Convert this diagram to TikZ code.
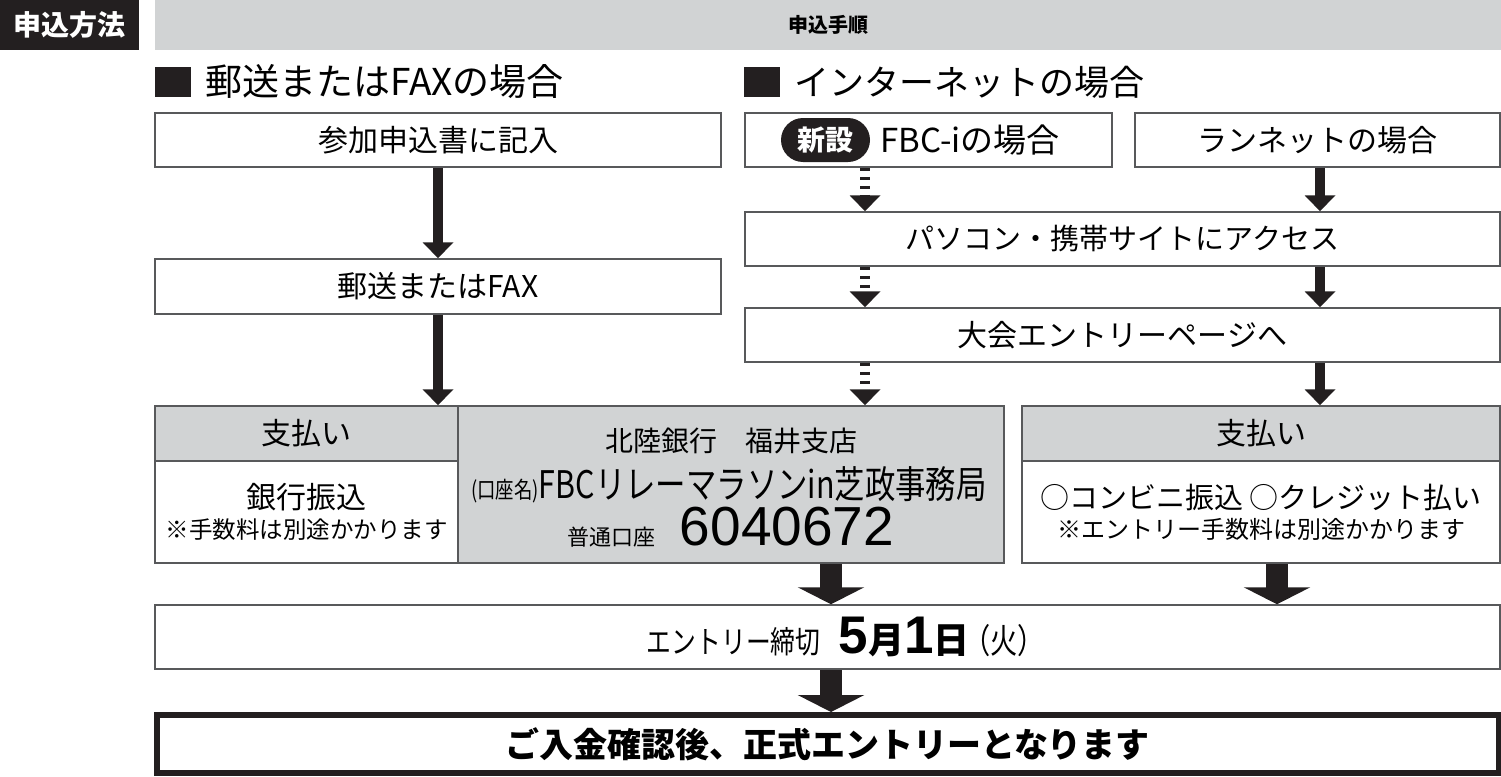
\documentclass[tikz,border=0pt]{standalone}
\usepackage{fontspec}
\setmainfont{Noto Sans CJK JP}
\newfontfamily\jpcond{Noto Sans CJK JP}[FakeStretch=0.8]
\newfontfamily\numfont{Liberation Sans}
\usetikzlibrary{positioning, arrows.meta}
\definecolor{FormGray}{HTML}{D1D3D4}
\definecolor{FormInk}{HTML}{231F20}
\definecolor{FormLine}{HTML}{58595B}

\tikzset{
  stepbox/.style={draw=FormLine, line width=1.5pt, inner sep=0pt, minimum height=54pt,
    align=center, font=\fontsize{30}{36}\selectfont},
  paybox/.style={stepbox, fill=FormGray},
  flowarrow/.style={draw=FormInk, line width=10pt, -{Triangle[width=30pt,length=16pt]}},
  dasharrow/.style={flowarrow, dash pattern=on 3pt off 6pt},
  bigarrow/.style={draw=FormInk, line width=22pt, -{Triangle[width=66pt,length=17pt]}}
}

\begin{document}
\begin{tikzpicture}[x=1pt, y=-1pt]
  \fill[white] (0,0) rectangle (1501,776);
  \useasboundingbox (0,0) rectangle (1501,776);

  % Header
  \node[fill=FormInk, text=white, minimum width=139pt, minimum height=50pt, inner sep=0pt,
        font=\fontsize{28}{32}\selectfont\bfseries] (method) at (69.5,25) {申込方法};
  \node[fill=FormGray, minimum width=1346pt, minimum height=50pt, inner sep=0pt,
        font=\fontsize{20}{24}\selectfont\bfseries] (steps) at (828,25) {申込手順};

  % Section titles
  \node[fill=FormInk, minimum width=36pt, minimum height=30pt, inner sep=0pt] (mailsq) at (173,82) {};
  \node[anchor=west, inner sep=0pt, font=\fontsize{37}{42}\selectfont] (mailtitle) at (205,82) {郵送またはFAXの場合};
  \node[fill=FormInk, minimum width=36pt, minimum height=30pt, inner sep=0pt] (netsq) at (762,82) {};
  \node[anchor=west, inner sep=0pt, font=\fontsize{35}{40}\selectfont] (nettitle) at (794,82) {インターネットの場合};

  % Mail / FAX column
  \node[stepbox, minimum width=566pt] (form) at (438,140) {参加申込書に記入};
  \node[stepbox, minimum width=566pt, minimum height=55pt] (post) at (438,286.5) {郵送またはFAX};

  % Internet column
  \node[stepbox, minimum width=367pt] (fbci) at (928.5,140) {};
  \node[fill=FormInk, text=white, rounded corners=22pt, minimum width=89pt, minimum height=44pt,
        inner sep=0pt, font=\fontsize{28}{32}\selectfont\bfseries] (newtag) at (825.5,140) {新設};
  \node[anchor=west, inner sep=0pt, font=\fontsize{33}{38}\selectfont] (fbcitext) at (880,140) {FBC-iの場合};
  \node[stepbox, minimum width=365pt] (runnet) at (1317.5,140) {ランネットの場合};
  \node[stepbox, minimum width=755pt, font=\fontsize{29}{34}\selectfont] (access) at (1122.5,239) {パソコン・携帯サイトにアクセス};
  \node[stepbox, minimum width=755pt] (entry) at (1122.5,335) {大会エントリーページへ};

  % Payment row
  \node[paybox, minimum width=303pt, minimum height=55pt] (payLhead) at (306.5,433.5) {支払い};
  \node[stepbox, minimum width=303pt, minimum height=102pt] (payLbody) at (306.5,512)
    {銀行振込\\[-6pt]{\fontsize{23.5}{26}\selectfont ※手数料は別途かかります}};
  \node[paybox, minimum width=546pt, minimum height=157pt] (bank) at (731,484.5) {};
  \node[inner sep=0pt, font=\fontsize{28}{32}\selectfont] (bankname) at (731,441) {北陸銀行　福井支店};
  \node[inner sep=0pt, font=\jpcond\fontsize{38}{42}\selectfont] (account) at (729,485)
    {{\fontsize{23}{26}\selectfont (口座名)}FBCリレーマラソンin芝政事務局};
  \node[inner sep=0pt, font=\fontsize{22}{26}\selectfont] (number) at (731,527)
    {普通口座\hspace{24pt}{\numfont\fontsize{55}{58}\selectfont 6040672}};
  \node[paybox, minimum width=478pt, minimum height=55pt] (payRhead) at (1261,433.5) {支払い};
  \node[stepbox, minimum width=478pt, minimum height=102pt] (payRbody) at (1261,512)
    {{\fontsize{29}{34}\selectfont ○コンビニ振込 ○クレジット払い}\\[-6pt]
     {\fontsize{24}{28}\selectfont ※エントリー手数料は別途かかります}};

  % Deadline and result
  \node[stepbox, minimum width=1345pt, minimum height=64pt] (deadline) at (827.5,637) {};
  \node[inner sep=0pt] (deadtext) at (846,637)
    {{\jpcond\fontsize{31}{34}\selectfont エントリー締切}\hspace{18pt}%
     {\bfseries\numfont\fontsize{53}{56}\selectfont 5}{\bfseries\fontsize{36}{40}\selectfont 月}%
     {\bfseries\numfont\fontsize{53}{56}\selectfont 1}{\bfseries\fontsize{36}{40}\selectfont 日}%
     \hspace{-6pt}{\jpcond\fontsize{34}{38}\selectfont （火）}};
  \node[draw=FormInk, line width=6pt, inner sep=0pt, minimum width=1342pt, minimum height=58pt,
        font=\fontsize{34}{40}\selectfont\bfseries] (final) at (827.5,744) {ご入金確認後、正式エントリーとなります};

  % Connector columns
  \coordinate (fbcx) at (865,0);
  \coordinate (runx) at (1320,0);
  \coordinate (bankx) at (831,0);
  \coordinate (payx) at (1277,0);

  % Arrows
  \draw[flowarrow] (form.south) -- (post.north);
  \draw[flowarrow] (post.south) -- (payLhead.north -| post.south);
  \draw[dasharrow] (fbci.south -| fbcx) -- (access.north -| fbcx);
  \draw[dasharrow] (access.south -| fbcx) -- (entry.north -| fbcx);
  \draw[dasharrow] (entry.south -| fbcx) -- (bank.north -| fbcx);
  \draw[flowarrow] (runnet.south -| runx) -- (access.north -| runx);
  \draw[flowarrow] (access.south -| runx) -- (entry.north -| runx);
  \draw[flowarrow] (entry.south -| runx) -- (payRhead.north -| runx);
  \draw[bigarrow] (bank.south -| bankx) -- (deadline.north -| bankx);
  \draw[bigarrow] (payRbody.south -| payx) -- (deadline.north -| payx);
  \draw[bigarrow] (deadline.south -| bankx) -- (final.north -| bankx);
\end{tikzpicture}
\end{document}
